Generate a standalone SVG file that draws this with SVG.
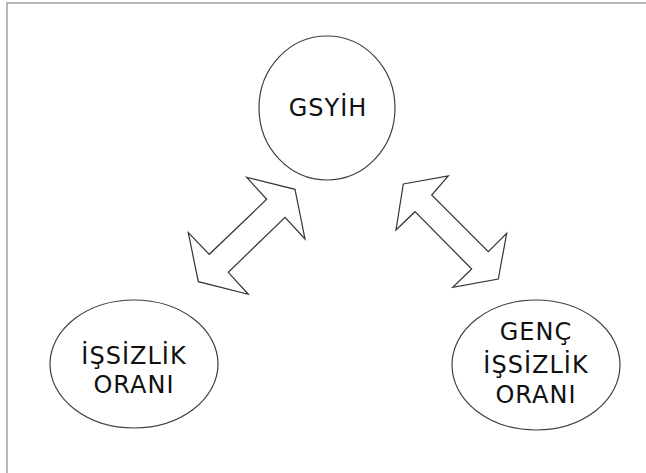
<svg xmlns="http://www.w3.org/2000/svg" width="646" height="473" viewBox="0 0 646 473">
<style>
.node ellipse{fill:#fff;stroke:#404040;stroke-width:1.2}
.node text{font-family:"DejaVu Sans","Verdana",sans-serif;font-size:24px;fill:#111;text-anchor:middle;letter-spacing:1px}
.arrow{fill:#fff;stroke:#333;stroke-width:1.2;stroke-linejoin:miter}
</style>
<rect x="0" y="0" width="646" height="473" fill="#fff"/>
<path d="M7,473 V3 H646" fill="none" stroke="#a59cab" stroke-width="1.5"/>
<g id="gsyih" class="node">
<ellipse cx="327" cy="108" rx="68" ry="72"/>
<text x="328" y="116">GSYİH</text>
</g>
<g id="issizlik" class="node">
<ellipse cx="134" cy="364" rx="84" ry="64"/>
<text x="134" y="364">İŞSİZLİK</text>
<text x="134" y="393">ORANI</text>
</g>
<g id="genc" class="node">
<ellipse cx="536" cy="365" rx="84" ry="65"/>
<text x="536" y="340">GENÇ</text>
<text x="536" y="373">İŞSİZLİK</text>
<text x="536" y="403">ORANI</text>
</g>
<g id="connectors">
<polygon class="arrow" points="295,189.3 305,239 285,217.3 228.3,272.3 248.3,294.3 198.3,281.7 188.3,232.7 209.3,254.3 266.7,199.3 246.7,177.3"/>
<polygon class="arrow" points="403.3,184 448.3,176 431.7,195 488.3,251.7 506.7,233.3 498.3,279 452.7,287.3 471.7,269 415,211.7 396,230"/>
</g>
</svg>
